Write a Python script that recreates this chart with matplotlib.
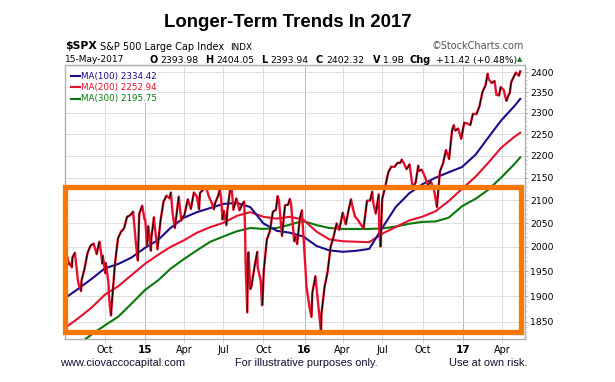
import matplotlib
matplotlib.use("Agg")
import matplotlib.pyplot as plt
import matplotlib.dates as mdates
from matplotlib.collections import LineCollection
from matplotlib.patches import Rectangle
import pandas as pd

price_dates = [
    "2014-07-01", "2014-07-03", "2014-07-07", "2014-07-10", "2014-07-11", "2014-07-17", "2014-07-18",
    "2014-07-24", "2014-07-25", "2014-07-31", "2014-08-01", "2014-08-07", "2014-08-08", "2014-08-15",
    "2014-08-22", "2014-08-29", "2014-09-05", "2014-09-12", "2014-09-18", "2014-09-19", "2014-09-25",
    "2014-09-26", "2014-10-02", "2014-10-03", "2014-10-09", "2014-10-10", "2014-10-13", "2014-10-15",
    "2014-10-17", "2014-10-24", "2014-10-31", "2014-11-07", "2014-11-14", "2014-11-21", "2014-11-28",
    "2014-12-05", "2014-12-12", "2014-12-16", "2014-12-19", "2014-12-26", "2014-12-31",
    "2015-01-02", "2015-01-06", "2015-01-09", "2015-01-15", "2015-01-16", "2015-01-22", "2015-01-23",
    "2015-01-30", "2015-02-06", "2015-02-13", "2015-02-20", "2015-02-27", "2015-03-02", "2015-03-06",
    "2015-03-11", "2015-03-13", "2015-03-20", "2015-03-26", "2015-03-27", "2015-04-02", "2015-04-10",
    "2015-04-17", "2015-04-24", "2015-05-01", "2015-05-06", "2015-05-08", "2015-05-15", "2015-05-21",
    "2015-05-29", "2015-06-05", "2015-06-09", "2015-06-12", "2015-06-19", "2015-06-23", "2015-06-26",
    "2015-06-29", "2015-07-02", "2015-07-08", "2015-07-10", "2015-07-17", "2015-07-20", "2015-07-24",
    "2015-07-31", "2015-08-07", "2015-08-14", "2015-08-18", "2015-08-20", "2015-08-21", "2015-08-24",
    "2015-08-25", "2015-08-27", "2015-08-28", "2015-09-01", "2015-09-04", "2015-09-11", "2015-09-17",
    "2015-09-18", "2015-09-25", "2015-09-28", "2015-09-29", "2015-10-02", "2015-10-09", "2015-10-16",
    "2015-10-23", "2015-10-30", "2015-11-03", "2015-11-06", "2015-11-13", "2015-11-20", "2015-11-27",
    "2015-12-01", "2015-12-04", "2015-12-11", "2015-12-14", "2015-12-18", "2015-12-24", "2015-12-29",
    "2015-12-31",
    "2016-01-07", "2016-01-08", "2016-01-15", "2016-01-20", "2016-01-22", "2016-01-29", "2016-02-05",
    "2016-02-11", "2016-02-12", "2016-02-19", "2016-02-26", "2016-03-04", "2016-03-11", "2016-03-18",
    "2016-03-24", "2016-04-01", "2016-04-08", "2016-04-15", "2016-04-20", "2016-04-22", "2016-04-29",
    "2016-05-06", "2016-05-13", "2016-05-19", "2016-05-27", "2016-06-03", "2016-06-08", "2016-06-10",
    "2016-06-16", "2016-06-23", "2016-06-24", "2016-06-27", "2016-07-01", "2016-07-08", "2016-07-15",
    "2016-07-22", "2016-07-29", "2016-08-05", "2016-08-12", "2016-08-15", "2016-08-19", "2016-08-26",
    "2016-09-02", "2016-09-09", "2016-09-16", "2016-09-22", "2016-09-23", "2016-09-30", "2016-10-07",
    "2016-10-14", "2016-10-21", "2016-10-28", "2016-11-04", "2016-11-11", "2016-11-18", "2016-11-25",
    "2016-12-02", "2016-12-09", "2016-12-13", "2016-12-16", "2016-12-23", "2016-12-30",
    "2017-01-06", "2017-01-13", "2017-01-20", "2017-01-26", "2017-02-03", "2017-02-10", "2017-02-17",
    "2017-02-24", "2017-03-01", "2017-03-03", "2017-03-10", "2017-03-17", "2017-03-21", "2017-03-24",
    "2017-03-27", "2017-03-31", "2017-04-07", "2017-04-13", "2017-04-18", "2017-04-21", "2017-04-24",
    "2017-04-28", "2017-05-05", "2017-05-12", "2017-05-15",
]
price_close = [
    1973, 1985, 1977, 1964, 1967, 1958, 1978,
    1988, 1978, 1930, 1925, 1910, 1931, 1955,
    1988, 2003, 2007, 1985, 2011, 2010, 1966,
    1982, 1946, 1967, 1928, 1906, 1875, 1862,
    1886, 1964, 2018, 2032, 2039, 2064, 2067,
    2075, 2002, 1972, 2070, 2088, 2059,
    2058, 2003, 2044, 1992, 2019, 2063, 2051,
    1995, 2055, 2097, 2110, 2104, 2117, 2071,
    2040, 2053, 2108, 2056, 2061, 2067, 2102,
    2081, 2117, 2108, 2080, 2116, 2123, 2131,
    2107, 2092, 2080, 2094, 2110, 2124, 2101,
    2058, 2077, 2046, 2077, 2127, 2128, 2079,
    2104, 2078, 2092, 2097, 2036, 1971, 1893,
    1868, 1988, 1989, 1914, 1921, 1961, 1990,
    1958, 1931, 1882, 1884, 1951, 2015, 2033,
    2075, 2079, 2109, 2099, 2023, 2089, 2090,
    2103, 2092, 2012, 2022, 2006, 2061, 2078,
    2044,
    1943, 1922, 1880, 1859, 1907, 1940, 1880,
    1829, 1865, 1918, 1948, 2000, 2022, 2050,
    2036, 2073, 2048, 2081, 2102, 2092, 2065,
    2057, 2047, 2040, 2099, 2099, 2119, 2096,
    2071, 2113, 2037, 2001, 2103, 2130, 2162,
    2175, 2174, 2183, 2184, 2191, 2184, 2169,
    2180, 2128, 2139, 2177, 2165, 2168, 2153,
    2133, 2141, 2126, 2085, 2164, 2182, 2213,
    2192, 2259, 2271, 2258, 2263, 2239,
    2277, 2275, 2271, 2298, 2297, 2316, 2351,
    2367, 2396, 2383, 2373, 2378, 2344, 2344,
    2342, 2363, 2356, 2329, 2343, 2349, 2374,
    2384, 2399, 2391, 2402,
]

# moving averages
ma_dates = [
    "2014-07-01", "2014-08-01", "2014-09-01", "2014-10-01", "2014-11-01", "2014-12-01",
    "2015-01-01", "2015-02-01", "2015-03-01", "2015-04-01", "2015-05-01", "2015-06-01",
    "2015-07-01", "2015-08-01", "2015-09-01", "2015-10-01", "2015-11-01", "2015-12-01",
    "2016-01-01", "2016-02-01", "2016-03-01", "2016-04-01", "2016-05-01", "2016-06-01",
    "2016-07-01", "2016-08-01", "2016-09-01", "2016-10-01", "2016-11-01", "2016-12-01",
    "2017-01-01", "2017-02-01", "2017-03-01", "2017-04-01", "2017-05-01", "2017-05-15",
]
ma100 = [1896, 1915, 1935, 1956, 1965, 1978,
         1998, 2015, 2040, 2062, 2074, 2083,
         2092, 2094, 2085, 2050, 2034, 2030,
         2022, 2002, 1993, 1990, 1992, 1996,
         2040, 2085, 2115, 2135, 2150, 2162,
         2174, 2202, 2240, 2282, 2316, 2334]
ma200 = [1838, 1857, 1878, 1903, 1920, 1942,
         1965, 1984, 2000, 2014, 2030, 2042,
         2051, 2066, 2074, 2064, 2060, 2064,
         2058, 2032, 2016, 2012, 2011, 2010,
         2028, 2042, 2056, 2064, 2076, 2098,
         2125, 2152, 2182, 2218, 2243, 2253]
ma300 = [1790, 1807, 1826, 1843, 1860, 1885,
         1912, 1932, 1955, 1975, 1993, 2011,
         2022, 2033, 2040, 2038, 2040, 2047,
         2055, 2046, 2040, 2038, 2038, 2038,
         2039, 2043, 2049, 2053, 2054, 2062,
         2087, 2103, 2122, 2150, 2180, 2196]

ma_labels = ["MA(100) 2334.42", "MA(200) 2252.94", "MA(300) 2195.75"]
ma_colors = ["#1c0c8c", "#e4102c", "#0a780a"]

tick_dates = ["2014-10-01", "2015-01-02", "2015-04-01", "2015-07-01", "2015-10-01", "2016-01-04",
              "2016-04-01", "2016-07-01", "2016-10-03", "2017-01-03", "2017-04-03"]
tick_labels = ["Oct", "15", "Apr", "Jul", "Oct", "16", "Apr", "Jul", "Oct", "17", "Apr"]
y_ticks = [1850, 1900, 1950, 2000, 2050, 2100, 2150, 2200, 2250, 2300, 2350, 2400]

box_dates = ("2014-07-01", "2017-05-16")
box_prices = (1830, 2130)

W, H = 615, 382
fig = plt.figure(figsize=(W / 100, H / 100), dpi=100)
ax = fig.add_axes([65 / W, 43 / H, 460 / W, 274 / H])

px = mdates.date2num(pd.to_datetime(price_dates))
mx = mdates.date2num(pd.to_datetime(ma_dates))

for vals, col in zip([ma300, ma200, ma100], ma_colors[::-1]):
    ax.plot(mx, vals, color=col, lw=1.5, zorder=3)

# price line: red underneath, black over the up moves
ax.plot(px, price_close, color="#e8102c", lw=1.7, zorder=4, solid_joinstyle="round")
up_segs = []
for i in range(len(px) - 1):
    if price_close[i + 1] > price_close[i]:
        up_segs.append([(px[i], price_close[i]), (px[i + 1], price_close[i + 1])])
ax.add_collection(LineCollection(up_segs, colors="black", linewidths=0.75, zorder=5))

ax.set_yscale("log")
ax.set_ylim(1817, 2418)
ax.set_xlim(mdates.date2num(pd.Timestamp("2014-07-01")), mdates.date2num(pd.Timestamp("2017-05-26")))

ax.yaxis.tick_right()
ax.set_yticks(y_ticks)
ax.set_yticklabels([str(v) for v in y_ticks])
ax.set_yticks(list(range(1820, 2420, 10)), minor=True)
ax.yaxis.set_minor_formatter(plt.NullFormatter())
ax.tick_params(axis="y", which="major", length=2, width=0.6, color="#999999", pad=1.5,
               labelsize=6.7, labelcolor="black")
ax.tick_params(axis="y", which="minor", length=1.5, width=0.5, color="#bbbbbb")

tx = mdates.date2num(pd.to_datetime(tick_dates))
ax.set_xticks(tx)
ax.set_xticklabels(tick_labels)
ax.tick_params(axis="x", length=3, width=0.6, color="#cccccc", pad=1.5, labelsize=6.9)
for lab in ax.get_xticklabels():
    if lab.get_text().isdigit():
        lab.set_fontweight("bold")
        lab.set_fontsize(7.5)

ax.grid(axis="y", color="#dddddd", lw=0.7)
for d, lab in zip(tx, tick_labels):
    ax.axvline(d, color="#b8b8b8" if lab.isdigit() else "#dddddd", lw=0.7, zorder=0)
for s in ax.spines.values():
    s.set_color("#b0b0b0")
    s.set_linewidth(1.0)

# legend box
ax.add_patch(Rectangle((0.003, 0.86), 0.2, 0.135, transform=ax.transAxes, facecolor="white",
                       edgecolor="none", zorder=2))
for i, (lab, col) in enumerate(zip(ma_labels, ma_colors)):
    yy = 1 - (76 + i * 11.3) / H
    fig.lines.append(plt.Line2D([71 / W, 80 / W], [yy, yy], color=col, lw=1.5, transform=fig.transFigure))
    fig.text(81.5 / W, yy, lab, color=col, fontsize=6.3, va="center", ha="left")

# orange highlight box
x0, x1 = mdates.date2num(pd.to_datetime(list(box_dates)))
ax.add_patch(Rectangle((x0, box_prices[0]), x1 - x0, box_prices[1] - box_prices[0], fill=False,
                       edgecolor="#ff7700", lw=3.8, zorder=6, clip_on=False))

# header text
def ft(x, y, s, **kw):
    ha = kw.pop("ha", "left")
    fig.text(x / W, 1 - y / H, s, va="center", ha=ha, parse_math=False, **kw)

ft(288, 22.5, "Longer-Term Trends In 2017", fontsize=13.4, fontweight="bold",
   family="Liberation Sans", ha="center")
ft(65, 46, "$SPX", fontsize=7.8, fontweight="bold")
ft(100, 46.5, "S&P 500 Large Cap Index", fontsize=7.0)
ft(230, 47, "INDX", fontsize=6.4)
ft(524, 46, "\u00a9StockCharts.com", fontsize=7.0, color="#555555", ha="right")
ft(65, 60, "15-May-2017", fontsize=6.5)
for x, s in [(150, "O"), (205.5, "H"), (261, "L"), (315.5, "C"), (372.5, "V"), (410, "Chg")]:
    ft(x, 60, s, fontsize=7.0, fontweight="bold")
for x, s in [(160, "2393.98"), (216, "2404.05"), (270.5, "2393.94"), (326.5, "2402.32"),
             (383, "1.9B"), (436, "+11.42 (+0.48%)")]:
    ft(x, 60.5, s, fontsize=6.7)
ft(517, 59.5, "\u25b2", fontsize=5, color="#1a7a1a")

# footer
ft(60, 362.5, "www.ciovaccocapital.com", fontsize=7.9, family="Liberation Sans", color="#111133")
ft(235, 362.5, "For illustrative purposes only.", fontsize=7.9, family="Liberation Sans", color="#111133")
ft(449, 362.5, "Use at own risk.", fontsize=7.9, family="Liberation Sans", color="#111133")

fig.savefig("out.png", dpi=100)
